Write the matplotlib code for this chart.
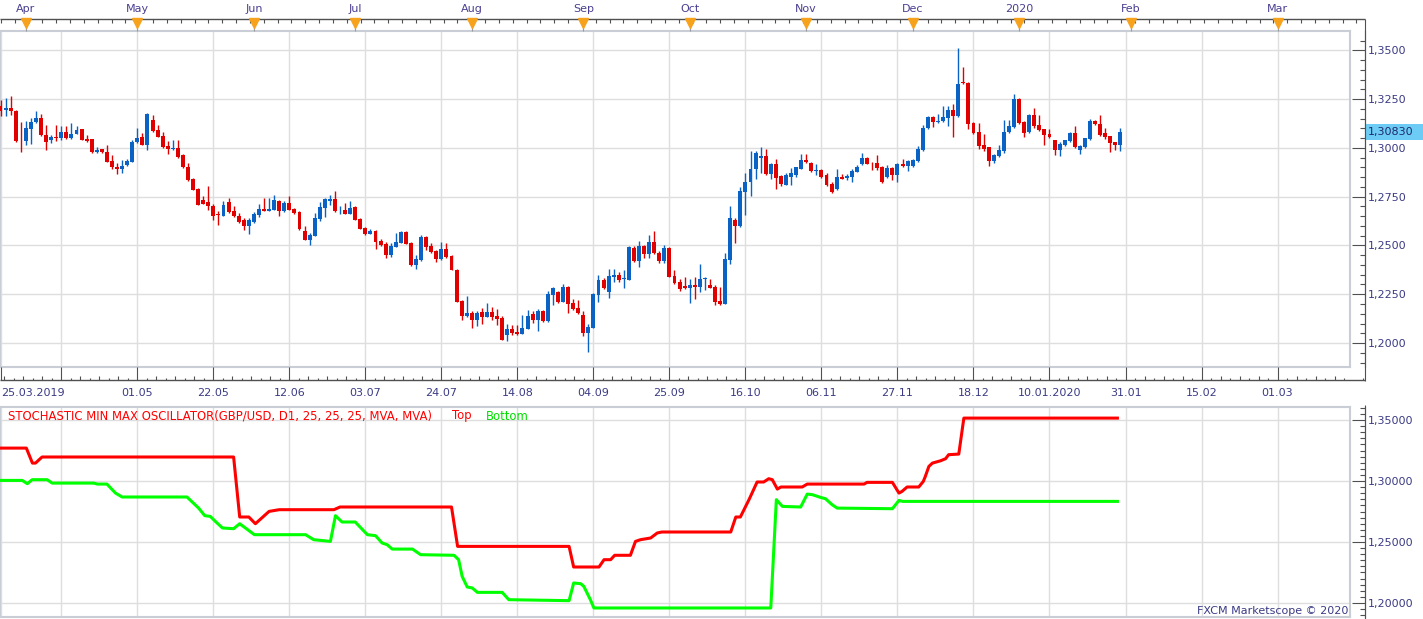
import numpy as np
import matplotlib
matplotlib.use("Agg")
import matplotlib.pyplot as plt
from matplotlib.patches import Rectangle
from matplotlib.ticker import FixedLocator, MultipleLocator, FuncFormatter
from matplotlib.transforms import blended_transform_factory as blend

# ---- daily GBP/USD candles, 25.03.2019 .. 30.01.2020 ----
opens = [
    1.3217, 1.3193, 1.3207, 1.3190, 1.3038, 1.3034, 1.3099, 1.3131, 1.3155, 1.3068,
    1.3039, 1.3058, 1.3049, 1.3084, 1.3049, 1.3073, 1.3096, 1.3048, 1.3046, 1.2978,
    1.2995, 1.2981, 1.2935, 1.2904, 1.2894, 1.2913, 1.2930, 1.3029, 1.3056, 1.3017,
    1.3145, 1.3094, 1.3063, 1.3008, 1.2993, 1.3002, 1.2962, 1.2904, 1.2843, 1.2792,
    1.2735, 1.2721, 1.2704, 1.2659, 1.2653, 1.2724, 1.2678, 1.2653, 1.2629, 1.2601,
    1.2622, 1.2658, 1.2688, 1.2678, 1.2683, 1.2729, 1.2678, 1.2719, 1.2688, 1.2673,
    1.2576, 1.2530, 1.2550, 1.2637, 1.2693, 1.2729, 1.2740, 1.2680, 1.2683, 1.2663,
    1.2699, 1.2637, 1.2591, 1.2560, 1.2576, 1.2524, 1.2509, 1.2453, 1.2494, 1.2514,
    1.2571, 1.2514, 1.2401, 1.2427, 1.2545, 1.2499, 1.2473, 1.2432, 1.2483, 1.2448,
    1.2376, 1.2217, 1.2140, 1.2155, 1.2120, 1.2161, 1.2135, 1.2161, 1.2140, 1.2130,
    1.2043, 1.2074, 1.2058, 1.2048, 1.2074, 1.2150, 1.2120, 1.2166, 1.2115, 1.2248,
    1.2263, 1.2212, 1.2289, 1.2207, 1.2181, 1.2145, 1.2053, 1.2079, 1.2248, 1.2325,
    1.2263, 1.2340, 1.2350, 1.2327, 1.2325, 1.2489, 1.2422, 1.2499, 1.2458, 1.2519,
    1.2463, 1.2422, 1.2489, 1.2345, 1.2314, 1.2294, 1.2284, 1.2299, 1.2289, 1.2327,
    1.2299, 1.2289, 1.2217, 1.2202, 1.2427, 1.2632, 1.2601, 1.2776, 1.2827, 1.2891,
    1.2947, 1.2961, 1.2868, 1.2916, 1.2855, 1.2809, 1.2853, 1.2863, 1.2894, 1.2940,
    1.2925, 1.2880, 1.2885, 1.2860, 1.2814, 1.2792, 1.2853, 1.2845, 1.2850, 1.2879,
    1.2920, 1.2950, 1.2925, 1.2925, 1.2904, 1.2853, 1.2899, 1.2863, 1.2920, 1.2906,
    1.2906, 1.2935, 1.2991, 1.3101, 1.3160, 1.3131, 1.3137, 1.3152, 1.3196, 1.3162,
    1.3340, 1.3335, 1.3130, 1.3080, 1.3014, 1.3003, 1.2932, 1.2957, 1.2986, 1.3084,
    1.3109, 1.3253, 1.3135, 1.3080, 1.3171, 1.3119, 1.3096, 1.3070, 1.3039, 1.2988,
    1.3014, 1.3034, 1.3078, 1.2988, 1.3003, 1.3044, 1.3140, 1.3125, 1.3078, 1.3060,
    1.3029, 1.3014,
]
highs = [
    1.3244, 1.3256, 1.3268, 1.3192, 1.3135, 1.3137, 1.3154, 1.3190, 1.3176, 1.3120,
    1.3068, 1.3118, 1.3111, 1.3111, 1.3130, 1.3114, 1.3098, 1.3065, 1.3048, 1.3007,
    1.2997, 1.3017, 1.2966, 1.2923, 1.2940, 1.2945, 1.3043, 1.3101, 1.3077, 1.3178,
    1.3167, 1.3120, 1.3084, 1.3034, 1.3039, 1.3039, 1.2971, 1.2923, 1.2845, 1.2795,
    1.2755, 1.2806, 1.2714, 1.2678, 1.2729, 1.2745, 1.2700, 1.2668, 1.2639, 1.2642,
    1.2670, 1.2712, 1.2741, 1.2741, 1.2760, 1.2731, 1.2729, 1.2755, 1.2693, 1.2678,
    1.2601, 1.2564, 1.2668, 1.2724, 1.2742, 1.2760, 1.2781, 1.2704, 1.2719, 1.2729,
    1.2701, 1.2642, 1.2596, 1.2586, 1.2581, 1.2535, 1.2519, 1.2514, 1.2565, 1.2576,
    1.2573, 1.2516, 1.2453, 1.2555, 1.2550, 1.2514, 1.2478, 1.2519, 1.2514, 1.2453,
    1.2378, 1.2222, 1.2243, 1.2166, 1.2166, 1.2181, 1.2207, 1.2186, 1.2176, 1.2140,
    1.2099, 1.2094, 1.2094, 1.2145, 1.2171, 1.2166, 1.2176, 1.2171, 1.2268, 1.2289,
    1.2268, 1.2304, 1.2291, 1.2227, 1.2222, 1.2166, 1.2099, 1.2255, 1.2350, 1.2335,
    1.2381, 1.2381, 1.2366, 1.2376, 1.2499, 1.2499, 1.2524, 1.2504, 1.2555, 1.2576,
    1.2473, 1.2504, 1.2491, 1.2376, 1.2330, 1.2340, 1.2330, 1.2340, 1.2407, 1.2340,
    1.2330, 1.2299, 1.2289, 1.2463, 1.2704, 1.2642, 1.2798, 1.2874, 1.2986, 1.2986,
    1.3007, 1.2997, 1.2923, 1.2945, 1.2860, 1.2874, 1.2899, 1.2901, 1.2971, 1.2971,
    1.2926, 1.2916, 1.2894, 1.2870, 1.2827, 1.2894, 1.2868, 1.2868, 1.2891, 1.2915,
    1.2976, 1.2956, 1.2926, 1.2966, 1.2906, 1.2915, 1.2901, 1.2922, 1.2945, 1.2940,
    1.2945, 1.3008, 1.3120, 1.3162, 1.3162, 1.3176, 1.3213, 1.3213, 1.3227, 1.3514,
    1.3417, 1.3337, 1.3132, 1.3130, 1.3073, 1.3005, 1.2967, 1.3014, 1.3145, 1.3145,
    1.3278, 1.3255, 1.3137, 1.3173, 1.3207, 1.3171, 1.3098, 1.3096, 1.3041, 1.3029,
    1.3041, 1.3080, 1.3114, 1.3014, 1.3051, 1.3150, 1.3145, 1.3171, 1.3104, 1.3062,
    1.3031, 1.3104,
]
lows = [
    1.3162, 1.3162, 1.3167, 1.3032, 1.2978, 1.3014, 1.3019, 1.3128, 1.3063, 1.2988,
    1.3024, 1.3034, 1.3043, 1.3047, 1.3047, 1.3070, 1.3041, 1.3032, 1.2976, 1.2976,
    1.2976, 1.2928, 1.2892, 1.2868, 1.2872, 1.2906, 1.2927, 1.3024, 1.3015, 1.2988,
    1.3084, 1.3055, 1.3000, 1.2971, 1.2988, 1.2949, 1.2897, 1.2829, 1.2784, 1.2707,
    1.2712, 1.2683, 1.2629, 1.2606, 1.2649, 1.2668, 1.2646, 1.2613, 1.2581, 1.2560,
    1.2613, 1.2644, 1.2676, 1.2675, 1.2680, 1.2653, 1.2673, 1.2681, 1.2663, 1.2581,
    1.2528, 1.2504, 1.2547, 1.2627, 1.2644, 1.2709, 1.2673, 1.2663, 1.2661, 1.2661,
    1.2630, 1.2584, 1.2555, 1.2558, 1.2483, 1.2499, 1.2437, 1.2442, 1.2492, 1.2512,
    1.2507, 1.2396, 1.2381, 1.2422, 1.2478, 1.2463, 1.2417, 1.2427, 1.2437, 1.2374,
    1.2210, 1.2120, 1.2135, 1.2079, 1.2089, 1.2099, 1.2133, 1.2120, 1.2094, 1.2015,
    1.2012, 1.2043, 1.2043, 1.2046, 1.2072, 1.2105, 1.2063, 1.2110, 1.2110, 1.2197,
    1.2207, 1.2210, 1.2155, 1.2171, 1.2150, 1.2038, 1.1956, 1.2077, 1.2212, 1.2279,
    1.2233, 1.2314, 1.2314, 1.2284, 1.2323, 1.2417, 1.2391, 1.2437, 1.2437, 1.2458,
    1.2412, 1.2412, 1.2338, 1.2304, 1.2268, 1.2279, 1.2207, 1.2227, 1.2263, 1.2273,
    1.2282, 1.2197, 1.2197, 1.2200, 1.2407, 1.2514, 1.2596, 1.2658, 1.2752, 1.2843,
    1.2874, 1.2863, 1.2843, 1.2792, 1.2807, 1.2809, 1.2812, 1.2853, 1.2892, 1.2925,
    1.2878, 1.2860, 1.2848, 1.2804, 1.2771, 1.2786, 1.2841, 1.2838, 1.2827, 1.2877,
    1.2915, 1.2918, 1.2889, 1.2889, 1.2822, 1.2848, 1.2838, 1.2827, 1.2901, 1.2880,
    1.2901, 1.2930, 1.2986, 1.3099, 1.3106, 1.3129, 1.3131, 1.3111, 1.3055, 1.3160,
    1.3326, 1.3099, 1.3073, 1.2993, 1.2983, 1.2906, 1.2925, 1.2955, 1.2973, 1.3079,
    1.3104, 1.3125, 1.3055, 1.3075, 1.3101, 1.3085, 1.3014, 1.3049, 1.2962, 1.2957,
    1.3008, 1.3029, 1.3001, 1.2967, 1.2998, 1.3039, 1.3116, 1.3060, 1.3044, 1.2978,
    1.2988, 1.2983,
]
closes = [
    1.3191, 1.3207, 1.3188, 1.3034, 1.3034, 1.3104, 1.3135, 1.3155, 1.3065, 1.3029,
    1.3058, 1.3049, 1.3084, 1.3049, 1.3070, 1.3094, 1.3043, 1.3034, 1.2978, 1.2991,
    1.2978, 1.2930, 1.2901, 1.2894, 1.2909, 1.2935, 1.3032, 1.3053, 1.3017, 1.3176,
    1.3089, 1.3058, 1.3003, 1.2995, 1.3002, 1.2952, 1.2901, 1.2838, 1.2786, 1.2709,
    1.2714, 1.2700, 1.2653, 1.2656, 1.2709, 1.2671, 1.2649, 1.2622, 1.2601, 1.2632,
    1.2663, 1.2688, 1.2678, 1.2688, 1.2735, 1.2678, 1.2719, 1.2683, 1.2668, 1.2586,
    1.2530, 1.2555, 1.2642, 1.2699, 1.2740, 1.2740, 1.2678, 1.2683, 1.2663, 1.2693,
    1.2632, 1.2586, 1.2560, 1.2576, 1.2519, 1.2504, 1.2453, 1.2499, 1.2519, 1.2571,
    1.2509, 1.2401, 1.2432, 1.2545, 1.2494, 1.2468, 1.2432, 1.2483, 1.2442, 1.2376,
    1.2212, 1.2140, 1.2155, 1.2120, 1.2155, 1.2135, 1.2161, 1.2135, 1.2125, 1.2017,
    1.2074, 1.2053, 1.2048, 1.2079, 1.2140, 1.2120, 1.2166, 1.2115, 1.2253, 1.2284,
    1.2212, 1.2289, 1.2202, 1.2176, 1.2155, 1.2053, 1.2084, 1.2253, 1.2325, 1.2284,
    1.2345, 1.2350, 1.2325, 1.2330, 1.2494, 1.2422, 1.2499, 1.2458, 1.2519, 1.2463,
    1.2422, 1.2489, 1.2340, 1.2309, 1.2279, 1.2284, 1.2299, 1.2289, 1.2330, 1.2330,
    1.2284, 1.2212, 1.2202, 1.2432, 1.2642, 1.2601, 1.2781, 1.2827, 1.2894, 1.2976,
    1.2961, 1.2868, 1.2916, 1.2848, 1.2817, 1.2860, 1.2870, 1.2901, 1.2940, 1.2930,
    1.2880, 1.2885, 1.2853, 1.2809, 1.2773, 1.2853, 1.2843, 1.2855, 1.2884, 1.2901,
    1.2950, 1.2920, 1.2921, 1.2899, 1.2827, 1.2899, 1.2863, 1.2920, 1.2908, 1.2932,
    1.2940, 1.2997, 1.3104, 1.3160, 1.3131, 1.3140, 1.3157, 1.3196, 1.3162, 1.3330,
    1.3331, 1.3125, 1.3075, 1.3009, 1.2993, 1.2932, 1.2962, 1.2991, 1.3084, 1.3114,
    1.3253, 1.3130, 1.3075, 1.3171, 1.3114, 1.3090, 1.3065, 1.3055, 1.2988, 1.3019,
    1.3039, 1.3078, 1.3003, 1.3008, 1.3049, 1.3140, 1.3121, 1.3065, 1.3055, 1.3024,
    1.3014, 1.3084,
]
last_price = 1.30830

# ---- oscillator lines (bar position, price) ----
top_x = [0, 5.1, 6.3, 6.9, 8.2, 46.0, 47.2, 49.0, 50.3, 53.0, 55.0, 65.8, 67.0, 89.0,
         90.2, 112.2, 113.1, 118.1, 119.1, 120.4, 121.2, 124.3, 125.3, 126.3, 128.3,
         129.6, 130.5, 144.1, 145.1, 146.0, 147.7, 148.3, 149.3, 150.6, 151.6, 152.3,
         153.3, 154.0, 158.2, 159.2, 170.4, 171.0, 176.0, 177.3, 177.9, 178.9, 181.2,
         182.1, 182.5, 183.2, 183.9, 185.5, 186.5, 187.1, 189.1, 190.1, 220.4]
top_y = [1.3270, 1.3270, 1.3147, 1.3147, 1.3197, 1.3197, 1.2705, 1.2705, 1.2650, 1.2751,
         1.2765, 1.2765, 1.2787, 1.2787, 1.2464, 1.2464, 1.2295, 1.2295, 1.2355, 1.2355,
         1.2391, 1.2391, 1.2505, 1.2519, 1.2533, 1.2574, 1.2582, 1.2582, 1.2705, 1.2705,
         1.2847, 1.2901, 1.2992, 1.2992, 1.3019, 1.3011, 1.2934, 1.2951, 1.2951, 1.2975,
         1.2975, 1.2989, 1.2989, 1.2901, 1.2915, 1.2951, 1.2951, 1.2997, 1.3038, 1.3120,
         1.3147, 1.3166, 1.3183, 1.3216, 1.3221, 1.3516, 1.3516]
bottom_x = [0, 4.3, 5.3, 6.25, 9.2, 10.2, 18.4, 19.1, 21.0, 22.7, 24.0, 36.8, 39.1, 40.3,
            41.4, 42.4, 43.8, 46.0, 47.2, 50.1, 60.2, 61.8, 65.1, 66.1, 67.4, 70.0, 72.4,
            74.0, 75.3, 76.3, 77.3, 81.3, 82.9, 89.5, 90.4, 91.1, 92.1, 93.1, 94.1, 99.0,
            100.3, 112.2, 113.1, 114.5, 115.1, 116.4, 117.1, 152.0, 153.1, 154.3, 157.9,
            159.2, 160.2, 161.8, 162.8, 164.1, 165.1, 176.0, 177.3, 178.0, 220.4]
bottom_y = [1.3005, 1.3005, 1.2978, 1.3011, 1.3011, 1.2983, 1.2983, 1.2975, 1.2975, 1.2901,
            1.2869, 1.2869, 1.2778, 1.2716, 1.2710, 1.2669, 1.2615, 1.2609, 1.2650, 1.2560,
            1.2560, 1.2519, 1.2505, 1.2716, 1.2664, 1.2664, 1.2560, 1.2552, 1.2492, 1.2478,
            1.2442, 1.2442, 1.2396, 1.2391, 1.2355, 1.2218, 1.2131, 1.2123, 1.2087, 1.2087,
            1.2027, 1.2019, 1.2164, 1.2158, 1.2137, 1.2027, 1.1959, 1.1959, 1.2847, 1.2792,
            1.2787, 1.2893, 1.2888, 1.2866, 1.2855, 1.2806, 1.2778, 1.2773, 1.2841, 1.2833,
            1.2833]

# ---- axis labelling ----
grid_bars = [0, 12, 27, 42, 57, 72, 87, 102, 117, 132, 147, 162, 177, 192, 207, 222, 237, 252]
date_bars = [0, 27, 42, 57, 72, 87, 102, 117, 132, 147, 162, 177, 192, 207, 222, 237, 252]
date_labels = ["25.03.2019", "01.05", "22.05", "12.06", "03.07", "24.07", "14.08", "04.09",
               "25.09", "16.10", "06.11", "27.11", "18.12", "10.01.2020", "31.01", "15.02", "01.03"]
month_bars = [5, 27, 50, 70, 93, 115, 136, 159, 180, 201, 223, 252]
month_labels = ["Apr", "May", "Jun", "Jul", "Aug", "Sep", "Oct", "Nov", "Dec", "2020", "Feb", "Mar"]

W, H = 1423, 619
TEXT = "#3b3b85"
MONTH = "#4a3f90"
GRID = "#dedede"
FRAME = "#c8cdd6"
AXIS = "#505050"
RED = "#e00000"
BLUE = "#0a62c4"
FS = 8.0

fig = plt.figure(figsize=(W / 100, H / 100), dpi=100)


def box(x0, y0, x1, y1):
    return [x0 / W, 1 - y1 / H, (x1 - x0) / W, (y1 - y0) / H]


ax = fig.add_axes(box(0, 31, 1350, 367))
ax2 = fig.add_axes(box(0, 407, 1350, 617))
ov = fig.add_axes([0, 0, 1, 1])
ov.set_xlim(0, W)
ov.set_ylim(H, 0)
ov.axis("off")

xlim = (-0.1, 266.3)
for a, fmt, major, lims in ((ax, "{:.4f}", 0.025, (1.1877, 1.35995)),
                            (ax2, "{:.5f}", 0.05, (1.1885, 1.3607))):
    a.set_xlim(*xlim)
    a.set_ylim(*lims)
    a.xaxis.set_major_locator(FixedLocator(grid_bars))
    a.tick_params(axis="x", which="both", length=0, labelbottom=False)
    a.yaxis.set_major_locator(MultipleLocator(major))
    a.yaxis.set_minor_locator(MultipleLocator(0.005))
    a.yaxis.set_major_formatter(FuncFormatter(lambda v, p, f=fmt: f.format(v).replace(".", ",")))
    a.yaxis.tick_right()
    a.spines["right"].set_position(("outward", 10.8))
    a.spines["right"].set_color(AXIS)
    a.spines["right"].set_linewidth(0.8)
    for s in ("left", "top", "bottom"):
        a.spines[s].set_color(FRAME)
        a.spines[s].set_linewidth(1.5)
    a.plot([1, 1], [0, 1], transform=a.transAxes, color=FRAME, lw=1.5, clip_on=False)
    a.tick_params(axis="y", which="both", direction="in", color=AXIS, labelcolor=TEXT,
                  labelsize=FS, pad=2, width=0.8)
    a.tick_params(axis="y", which="major", length=9.4)
    a.tick_params(axis="y", which="minor", length=3.6)
    a.grid(True, color=GRID, lw=1.0)
    a.set_axisbelow(True)

# candles
o, h, l, c = map(np.array, (opens, highs, lows, closes))
x = np.arange(len(o))
col = np.where(c >= o, BLUE, RED)
ax.vlines(x, l, h, colors=col, lw=1.0, zorder=3)
ax.bar(x, np.maximum(np.abs(c - o), 0.0004), bottom=np.minimum(o, c), width=0.78,
       color=col, lw=0, zorder=4)

# oscillator
ax2.plot(top_x, top_y, color="#ff0000", lw=2.2, zorder=3)
ax2.plot(bottom_x, bottom_y, color="#00ff00", lw=2.2, zorder=3)

# ---- decorations in pixel space ----
bx = blend(ax.transData, ov.transData)

# month strip
ov.hlines(18.5, 0, 1365, color=AXIS, lw=1)
ov.vlines(np.arange(1, 1365, 13.83), 18.5, 22.5, color=AXIS, lw=0.8)
ov.vlines(1365, 18.5, 381, color=AXIS, lw=0.8)
ov.vlines(month_bars, 27, 31, color="#9a9a9a", lw=0.8, transform=bx)
ov.plot(month_bars, [22.5] * len(month_bars), "v", ms=6.5, color="#f7a21d", transform=bx)
for mb, ml in zip(month_bars, month_labels):
    ov.text(mb, 9, ml, transform=bx, ha="center", va="center", fontsize=FS, color=MONTH)

# date axis
ov.hlines(380, 0, 1365, color=AXIS, lw=1)
ov.vlines(grid_bars, 367, 380, color=AXIS, lw=0.8, transform=bx)
k = np.arange(-6, 138)
minor = 12 + 1.875 * k
keep = (k % 8 != 0) & (minor > -0.1) & (minor < 269.2)
tick_top = np.where(k % 2 == 0, 375.5, 377.5)
ov.vlines(minor[keep], tick_top[keep], 380, color=AXIS, lw=0.8, transform=bx)
for db, dl in zip(date_bars, date_labels):
    ov.text(db if db else 0.1, 393, dl, transform=bx, ha="center" if db else "left",
            va="center", fontsize=FS, color=TEXT)

# lower right axis line
ov.vlines(1365, 405, 619, color=AXIS, lw=0.8)

# current price marker
by = blend(ov.transData, ax.transData)
ov.add_patch(Rectangle((1366, last_price - 0.0040), 57, 0.0080, transform=by,
                       color="#6cccf5", lw=0))
ov.text(1368, last_price, f"{last_price:.5f}".replace(".", ","), transform=by,
        va="center", ha="left", fontsize=FS, color="#1f2a6b")

# indicator caption
CAP = 8.4
ov.text(8, 416, "STOCHASTIC MIN MAX OSCILLATOR(GBP/USD, D1, 25, 25, 25, MVA, MVA)",
        color="#ff0000", fontsize=CAP, va="center")
ov.text(452, 416, "Top", color="#ff0000", fontsize=CAP, va="center")
ov.text(486, 416, "Bottom", color="#00e000", fontsize=CAP, va="center")
ov.text(1348, 611, "FXCM Marketscope \u00a9 2020", color=TEXT, fontsize=FS,
        ha="right", va="center")

fig.savefig("out.png", dpi=100)
